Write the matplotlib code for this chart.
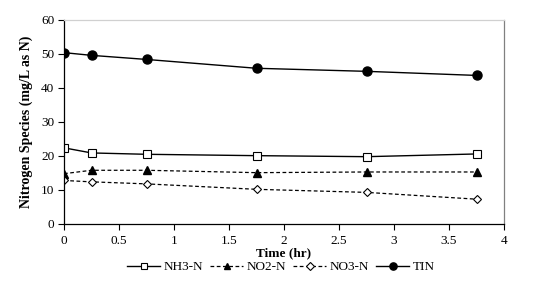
import matplotlib
matplotlib.use("Agg")
import matplotlib.pyplot as plt

time_hr = [0, 0.25, 0.75, 1.75, 2.75, 3.75]
nh3_n = [22.4, 20.9, 20.5, 20.1, 19.8, 20.6]
no2_n = [14.8, 15.8, 15.8, 15.1, 15.3, 15.3]
no3_n = [12.8, 12.4, 11.8, 10.2, 9.3, 7.3]
tin = [50.4, 49.6, 48.4, 45.8, 44.9, 43.7]

plt.rcParams['font.family'] = ['Liberation Serif', 'DejaVu Serif']

fig = plt.figure(figsize=(5.36, 2.81), dpi=100)
ax = fig.add_axes([64/536, 1-224/281, 440/536, 204/281])

ax.plot(time_hr, nh3_n, '-', color='black', lw=1, marker='s', ms=5.5,
        mfc='white', mec='black', mew=0.8, label='NH3-N')
ax.plot(time_hr, no2_n, '--', color='black', lw=0.9, marker='^', ms=6,
        mfc='black', mec='black', label='NO2-N', dashes=(3, 2))
ax.plot(time_hr, no3_n, '--', color='black', lw=0.9, marker='D', ms=4.5,
        mfc='white', mec='black', mew=0.8, label='NO3-N', dashes=(3, 2))
ax.plot(time_hr, tin, '-', color='black', lw=1, marker='o', ms=6.5,
        mfc='black', mec='black', label='TIN')

ax.set_xlim(0, 4)
ax.set_ylim(0, 60)
ax.set_xticks([0, 0.5, 1, 1.5, 2, 2.5, 3, 3.5, 4])
ax.set_xticklabels(['0', '0.5', '1', '1.5', '2', '2.5', '3', '3.5', '4'])
ax.set_yticks([0, 10, 20, 30, 40, 50, 60])
ax.tick_params(labelsize=9.5, direction='out', length=4, width=0.8)
ax.tick_params(axis='x', pad=4)
ax.tick_params(axis='y', pad=3)

ax.spines['left'].set_color('black')
ax.spines['bottom'].set_color('black')
ax.spines['top'].set_color('#d0d0d0')
ax.spines['right'].set_color('#808080')
for s in ax.spines.values():
    s.set_linewidth(0.9)

ax.set_xlabel('Time (hr)', fontsize=9.5, fontweight='bold', labelpad=0)
ax.set_ylabel('Nitrogen Species (mg/L as N)', fontsize=10, fontweight='bold', labelpad=6)

leg = fig.legend(loc='center', bbox_to_anchor=(281/536, 1-267/281), ncol=4,
                 frameon=False, fontsize=9.5, handlelength=2.5, columnspacing=0.5,
                 handletextpad=0.3, markerscale=0.8)

fig.savefig('out.png', dpi=100)
